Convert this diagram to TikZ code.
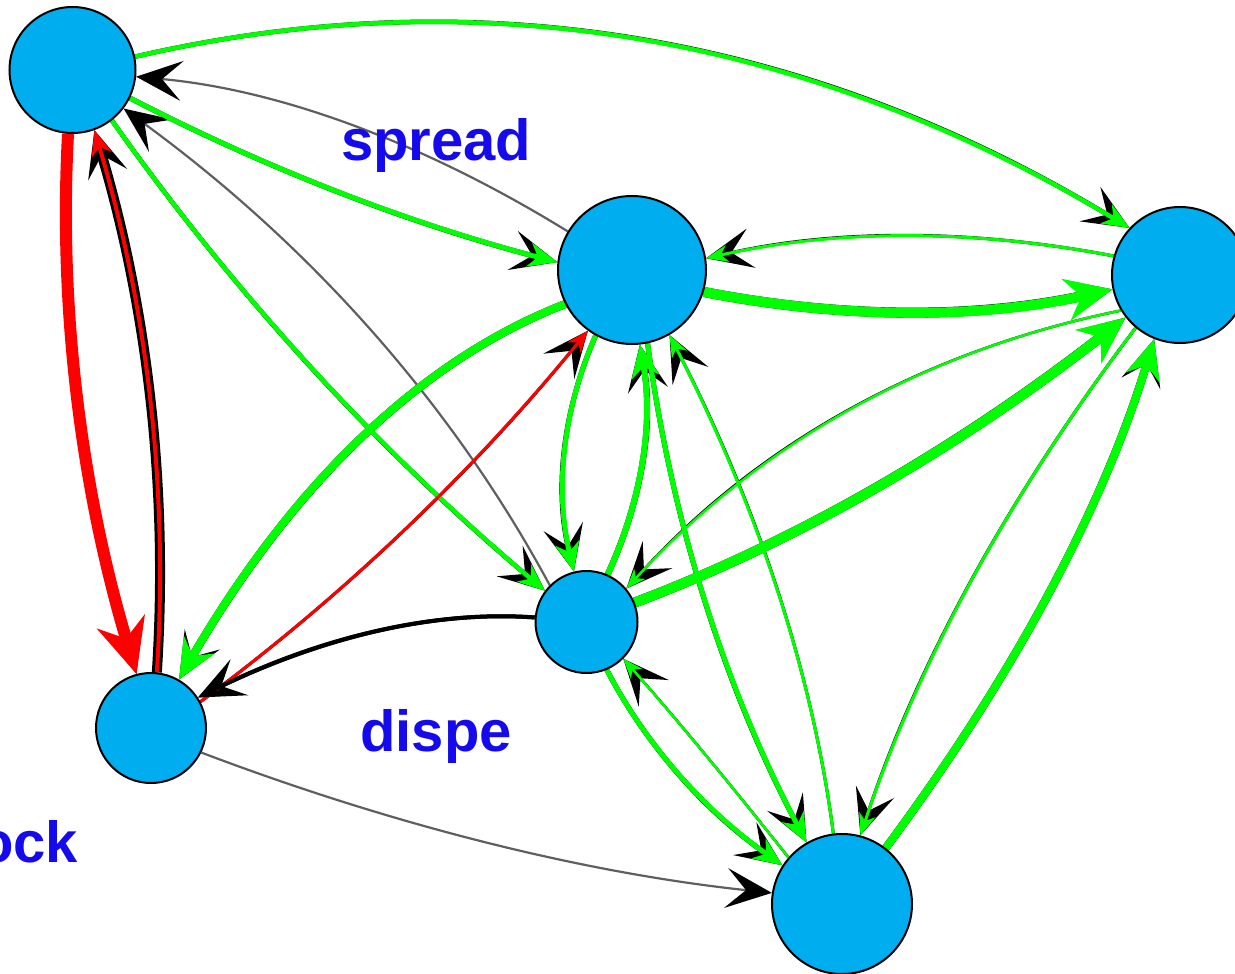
\documentclass[tikz,border=0pt]{standalone}
\usepackage{fontspec}
\newfontfamily\labelfont{Liberation Sans}
\usetikzlibrary{arrows.meta,calc}
\definecolor{nodeblue}{RGB}{0,174,239}
\definecolor{edgegreen}{RGB}{0,255,0}
\definecolor{edgered}{RGB}{255,0,0}
\definecolor{edgegray}{RGB}{95,95,95}
\definecolor{labelblue}{RGB}{20,10,235}
\pgfdeclarelayer{shade}
\pgfdeclarelayer{lines}
\pgfsetlayers{shade,lines,main}

\tikzset{
  shadowtip/.style={-{Stealth[color=black,length=46pt,width=40pt,inset=20pt]}},
  colourtip/.style={-{Stealth[length=11pt 3.6,width=6pt 3.6,inset=3pt 1.2]}},
}

% directed arc through a given point: black shadow with a large tip, coloured line on top
% #1 shadow width, #2 colour, #3 colour width, #4 start anchor, #5 through point, #6 end anchor
\newcommand\link[6]{%
  \coordinate (ctl) at ($2*(#5)-0.5*(#4)-0.5*(#6)$);
  \begin{pgfonlayer}{shade}
    \draw[black,line width=#1pt,shadowtip] (#4) .. controls ($(#4)!2/3!(ctl)$) and ($(#6)!2/3!(ctl)$) .. (#6);
  \end{pgfonlayer}
  \begin{pgfonlayer}{lines}
    \draw[#2,line width=#3pt,colourtip] (#4) .. controls ($(#4)!2/3!(ctl)$) and ($(#6)!2/3!(ctl)$) .. (#6);
  \end{pgfonlayer}
}
% thin grey arc with a black tip
\newcommand\glink[3]{%
  \coordinate (ctl) at ($2*(#2)-0.5*(#1)-0.5*(#3)$);
  \begin{pgfonlayer}{shade}
    \draw[edgegray,line width=2.2pt,shadowtip] (#1) .. controls ($(#1)!2/3!(ctl)$) and ($(#3)!2/3!(ctl)$) .. (#3);
  \end{pgfonlayer}
}

\begin{document}
\begin{tikzpicture}[x=1pt,y=-1pt,
  vertex/.style={circle,draw=black,line width=2pt,fill=nodeblue,inner sep=0pt},
  tag/.style={font=\labelfont\bfseries\fontsize{58}{60}\selectfont,text=labelblue,inner sep=0pt,anchor=base west}]
\useasboundingbox (0,0) rectangle (1235,974);

\node[vertex,minimum size=126pt] (A) at (72.5,70) {};
\node[vertex,minimum size=148pt] (B) at (632,270) {};
\node[vertex,minimum size=136pt] (C) at (1180,275) {};
\node[vertex,minimum size=102pt] (D) at (586.5,622) {};
\node[vertex,minimum size=110pt] (E) at (151,728) {};
\node[vertex,minimum size=140pt] (F) at (842,904) {};

\link{4.5}{edgegreen}{4.5}{A.12}{640,40}{C.137}
\glink{B.149}{350,125}{A.354}
\link{5}{edgegreen}{5}{A.334}{339,192}{B.174}
\link{4.5}{edgegreen}{4.5}{A.308}{312,368}{D.143}
\glink{D.135}{370,330}{A.323}
\link{4}{edgered}{12}{A.266}{78,400}{E.105}
\link{10}{edgered}{4}{E.84}{150,400}{A.290}
\link{8}{edgegreen}{8}{B.207}{360,440}{E.60}
\link{3}{edgered}{3}{E.28}{404,530}{B.234}
\link{4}{black}{4}{D.175}{375,632}{E.33}
\glink{E.334}{490,843}{F.171}
\link{10}{edgegreen}{10}{B.343}{912,312}{C.192}
\link{3}{edgegreen}{3}{C.164}{905,236}{B.9}
\link{5}{edgegreen}{5}{B.241}{565,452}{D.104}
\link{6}{edgegreen}{6}{D.66}{642,460}{B.276}
\link{5}{edgegreen}{5}{B.282}{705,600}{F.120}
\link{3}{edgegreen}{3}{F.97}{777,590}{B.300}
\link{5}{edgegreen}{5}{D.293}{680,775}{F.147}
\link{2.5}{edgegreen}{2.5}{F.139}{703,752}{D.315}
\link{3}{edgegreen}{3}{C.230}{972,580}{F.75}
\link{8}{edgegreen}{8}{F.52}{1050,590}{C.248}
\link{2.5}{edgegreen}{2.5}{C.211}{850,410}{D.40}
\link{10}{edgegreen}{10}{D.22}{880,485}{C.218}

\node[tag] (spread) at (341,160) {spread};
\node[tag] (dispe) at (360,751) {dispe};
\node[tag] (ock) at (-22,862) {ock};
\end{tikzpicture}
\end{document}
